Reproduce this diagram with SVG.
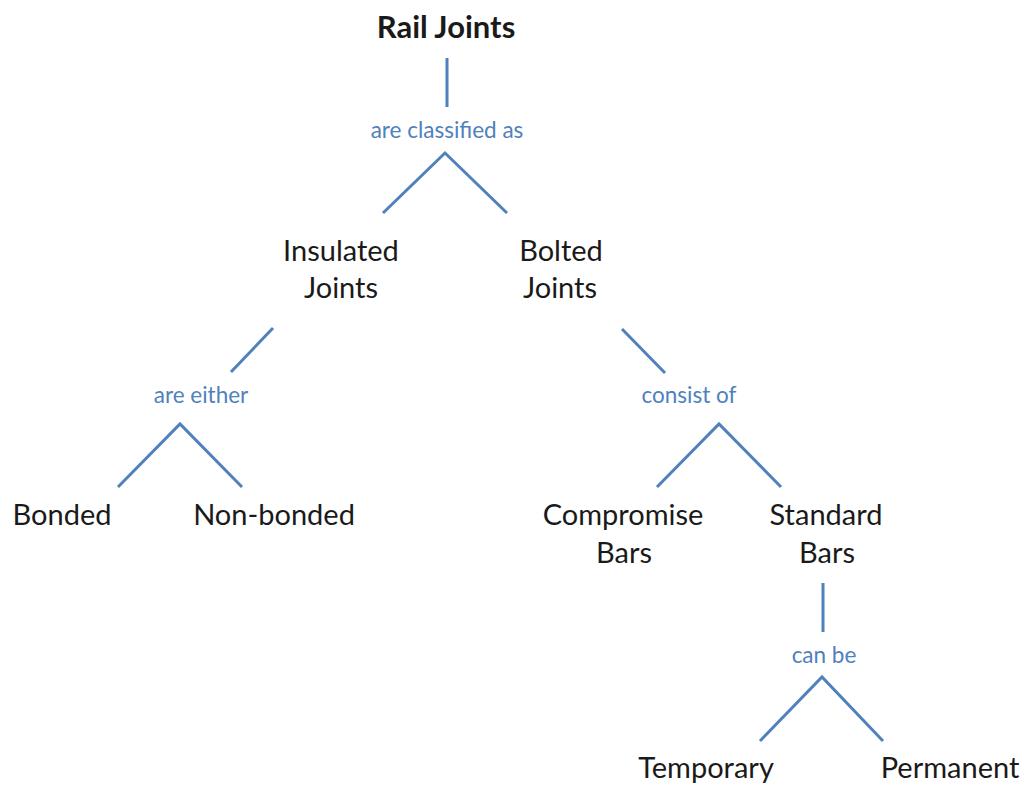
<svg xmlns="http://www.w3.org/2000/svg" width="1023" height="787" viewBox="0 0 1023 787">
<style>
.n{font-family:Lato,"Open Sans","Liberation Sans",sans-serif;font-size:29px;fill:#1a1a1a;text-anchor:middle}
.b{font-weight:bold;font-size:31px}
.l{font-family:Lato,"Open Sans","Liberation Sans",sans-serif;font-size:22.5px;fill:#4f81bd;text-anchor:middle}
.c line,.c polyline{stroke:#4f81bd;stroke-width:3;fill:none}
</style>
<rect width="1023" height="787" fill="#fff"/>
<g id="connectors" class="c">
<line x1="447" y1="58" x2="447" y2="107"/>
<polyline points="383,213 445,153 507,213"/>
<line x1="273" y1="328" x2="231" y2="372"/>
<polyline points="118,487 180,424 242,487"/>
<line x1="622" y1="329" x2="665" y2="373"/>
<polyline points="657,487 719,424 781,487"/>
<line x1="823" y1="583" x2="823" y2="632"/>
<polyline points="760,741 822,677 883,741"/>
</g>
<g id="lbl-classified"><text class="l" x="447" y="138">are classified as</text></g>
<g id="lbl-either"><text class="l" x="201" y="403">are either</text></g>
<g id="lbl-consist"><text class="l" x="689" y="403">consist of</text></g>
<g id="lbl-canbe"><text class="l" x="824" y="663">can be</text></g>
<g id="rail-joints"><text class="n b" x="446" y="38">Rail Joints</text></g>
<g id="insulated"><text class="n" x="341" y="261">Insulated</text><text class="n" x="341" y="298">Joints</text></g>
<g id="bolted"><text class="n" x="561" y="261">Bolted</text><text class="n" x="560" y="298">Joints</text></g>
<g id="bonded"><text class="n" x="62" y="525">Bonded</text></g>
<g id="nonbonded"><text class="n" x="274" y="525">Non-bonded</text></g>
<g id="compromise"><text class="n" x="623" y="525">Compromise</text><text class="n" x="624" y="563">Bars</text></g>
<g id="standard"><text class="n" x="826" y="525">Standard</text><text class="n" x="827" y="563">Bars</text></g>
<g id="temporary"><text class="n" x="706" y="778">Temporary</text></g>
<g id="permanent"><text class="n" x="950" y="778">Permanent</text></g>
</svg>
